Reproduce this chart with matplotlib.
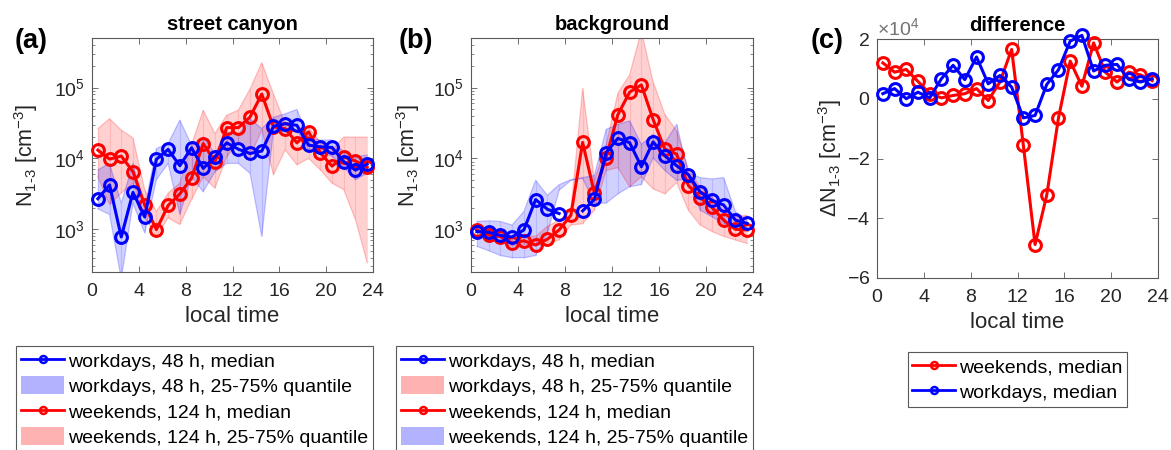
import matplotlib
matplotlib.use('Agg')
import matplotlib.pyplot as plt
import numpy as np
from matplotlib.lines import Line2D
from matplotlib.patches import Patch
from matplotlib.ticker import ScalarFormatter, LogLocator, NullFormatter

plt.rcParams['font.family'] = ['Liberation Sans', 'DejaVu Sans']
plt.rcParams['mathtext.fontset'] = 'custom'
plt.rcParams['mathtext.rm'] = 'Liberation Sans'
plt.rcParams['mathtext.it'] = 'Liberation Sans:italic'
plt.rcParams['mathtext.bf'] = 'Liberation Sans:bold'

# ---------------- data ----------------
hours = [0.5, 1.5, 2.5, 3.5, 4.5, 5.5, 6.5, 7.5, 8.5, 9.5, 10.5, 11.5,
         12.5, 13.5, 14.5, 15.5, 16.5, 17.5, 18.5, 19.5, 20.5, 21.5, 22.5, 23.5]

# (a) street canyon
sc_work_med = [2700, 4230, 780, 3330, 1490, 9700, 13400, 7900, 14100, 7240, 10500, 16600,
               13500, 11750, 12700, 28400, 31000, 29300, 15400, 14600, 14300, 9000, 6850, 8300]
sc_work_q25 = [1950, 1620, 200, 2340, 890, 5010, 8510, 1620, 5500, 3390, 6460, 8510,
               8510, 6170, 794, 25100, 23400, 25100, 13200, 12300, 10700, 7590, 5010, 6170]
sc_work_q75 = [6900, 8500, 2340, 8500, 2000, 13800, 16200, 34700, 15500, 20000, 11700, 23400,
               21400, 36300, 26300, 38000, 42700, 49000, 20000, 18200, 18200, 12300, 10500, 11200]
sc_week_med = [13100, 9800, 10800, 6500, 2220, 990, 2170, 3160, 5250, 16200, 9000, 27200,
               27200, 38400, 81000, 27800, 26300, 16600, 23700, 12000, 7800, 10500, 9200, 7500]
sc_week_q25 = [5500, 2240, 3240, 4470, 1510, 794, 1450, 1170, 2630, 5500, 3800, 10500,
               17000, 10500, 25100, 5890, 13200, 8130, 10000, 6900, 4470, 3630, 1380, 340]
sc_week_q75 = [26300, 36300, 25100, 19500, 3630, 1780, 3240, 4470, 15500, 47900, 22400, 40700,
               47900, 95500, 224000, 81300, 30900, 25100, 27500, 17000, 13200, 20000, 20000, 20000]

# (b) background
bg_work_med = [930, 910, 820, 780, 980, 2630, 1920, 1670, np.nan, 1820, 2640, 12100,
               19200, 16700, 7650, 17100, 10900, 7900, 5900, 3360, 2570, 2200, 1350, 1210]
bg_work_q25 = [575, 500, 427, 398, 398, 427, 870, 3550, 4900, 5250, 2340, 2340,
               3160, 3980, 4270, 10200, 6760, 4900, 5130, 1860, 1510, 1200, 1100, 1050]
bg_work_q75 = [1290, 1320, 1290, 1150, 1780, 4900, 3020, 4270, 5010, 5370, 5750, 25700,
               30200, 33900, 15800, 21900, 16600, 30200, 6310, 5370, 5130, 5370, 1780, 1350]
bg_week_med = [980, 830, 790, 640, 690, 600, 725, 980, 1580, 16800, 3250, 10300,
               41500, 86000, 109000, 35400, 13500, 11500, 4150, 2800, 2040, 1350, 1000, 980]
bg_week_q25 = [832, 724, 646, 575, 617, 589, 646, 708, 1150, 1200, 1860, 6760,
               7410, 3980, 5500, 3720, 3160, 4570, 1860, 1150, 933, 794, 708, 631]
bg_week_q75 = [1100, 1000, 891, 741, 832, 794, 1100, 1350, 1860, 97700, 4900, 15800,
               83200, 151000, 631000, 120000, 41700, 24500, 7080, 3980, 2880, 1860, 1510, 1580]

# (c) difference
diff_week = [12000, 8900, 9800, 5800, 1700, 300, 1100, 1700, 3400, -600, 5600, 16500,
             -15600, -48800, -32200, -6400, 12600, 4200, 18700, 8900, 5600, 8900, 8000, 6100]
diff_work = [1700, 3400, 0, 2200, 300, 6700, 11200, 6400, 14000, 5000, 7800, 3900,
             -6400, -5600, 4800, 9700, 19300, 21200, 9300, 11200, 11500, 6500, 5600, 6700]

titles = ['street canyon', 'background', 'difference']
panel_labels = ['(a)', '(b)', '(c)']
xticks = [0, 4, 8, 12, 16, 20, 24]

RED = (1, 0, 0)
BLUE = (0, 0, 1)
AXC = '0.15'
SPC = '0.35'

W, H = 1171, 450
fig = plt.figure(figsize=(W / 100, H / 100), dpi=100)


def px_axes(l, r, t, b):
    return fig.add_axes([l / W, 1 - b / H, (r - l) / W, (b - t) / H])


def style(ax):
    ax.set_xlim(0, 24)
    ax.set_xticks(xticks)
    for s in ax.spines.values():
        s.set_color(SPC)
        s.set_linewidth(0.8)
    ax.tick_params(which='major', direction='in', top=True, right=True, length=4,
                   width=0.6, color=SPC, labelsize=14, labelcolor=AXC, pad=5)
    ax.tick_params(axis='x', which='major', pad=8)
    ax.tick_params(which='minor', direction='in', top=False, right=True, length=2,
                   width=0.5, color=SPC)
    ax.tick_params(axis='x', which='minor', bottom=False, top=False)
    ax.set_xlabel('local time', fontsize=16, color=AXC, labelpad=4)


def band(ax, x, lo, hi, color):
    ax.fill_between(x, lo, hi, facecolor=color, alpha=0.18, edgecolor='none', lw=0)
    ax.plot(x, lo, color=color, alpha=0.22, lw=0.9)
    ax.plot(x, hi, color=color, alpha=0.22, lw=0.9)
    ax.vlines(x, lo, hi, color=color, alpha=0.12, lw=0.8)


def med(ax, x, y, color):
    ax.plot(x, y, color=color, lw=2.2, marker='o', ms=8.5, mew=2.2, mfc='none',
            clip_on=False, zorder=5)


axes = [px_axes(92, 373, 38, 272), px_axes(471, 753, 38, 272), px_axes(877, 1158, 39, 278)]

# (a)
ax = axes[0]
band(ax, hours, sc_week_q25, sc_week_q75, RED)
band(ax, hours, sc_work_q25, sc_work_q75, BLUE)
med(ax, hours, sc_week_med, RED)
med(ax, hours, sc_work_med, BLUE)

# (b)
ax = axes[1]
band(ax, hours, bg_week_q25, bg_week_q75, RED)
band(ax, hours, bg_work_q25, bg_work_q75, BLUE)
med(ax, hours, bg_week_med, RED)
med(ax, hours, bg_work_med, BLUE)

for ax, lp in zip(axes[:2], [10, 8]):
    ax.set_yscale('log')
    ax.set_ylim(250, 5e5)
    ax.yaxis.set_major_locator(LogLocator(base=10, numticks=10))
    ax.yaxis.set_minor_locator(LogLocator(base=10, subs=np.arange(2, 10), numticks=10))
    ax.yaxis.set_minor_formatter(NullFormatter())
    style(ax)
    ax.set_ylabel('N$_{1\u20103}$ [cm$^{-3}$]', fontsize=15.5, color=AXC, labelpad=lp)

# (c)
ax = axes[2]
med(ax, hours, diff_week, RED)
med(ax, hours, diff_work, BLUE)
ax.set_ylim(-60000, 20000)
ax.set_yticks([-60000, -40000, -20000, 0, 20000])
fmt = ScalarFormatter(useMathText=True)
fmt.set_powerlimits((-3, 3))
ax.yaxis.set_major_formatter(fmt)
style(ax)
ax.yaxis.get_offset_text().set_fontsize(14)
ax.yaxis.get_offset_text().set_color('0.45')
ax.set_ylabel('\u0394N$_{1\u20103}$ [cm$^{-3}$]', fontsize=15.5, color=AXC, labelpad=2)

for ax, t in zip(axes, titles):
    ax.set_title(t, fontsize=14.5, fontweight='bold', pad=6)

for lab, xp in zip(panel_labels, [31, 416, 827]):
    fig.text(xp / W, 1 - 41 / H, lab, fontsize=19.5, fontweight='bold', ha='center', va='center')

# legends
def mh(color):
    return Line2D([], [], color=color, lw=2, marker='o', ms=5, mew=1.8, mfc='none')


def ph(color):
    return Patch(facecolor=color, alpha=0.3, edgecolor='none')


leg_kw = dict(fontsize=14, frameon=True, fancybox=False, edgecolor=SPC, framealpha=1,
              borderaxespad=0, handlelength=2.2, handleheight=1.05, handletextpad=0.2,
              labelspacing=0.3, borderpad=0.25)

la = fig.legend(handles=[mh(BLUE), ph(BLUE), mh(RED), ph(RED)],
                labels=['workdays, 48 h, median', 'workdays, 48 h, 25-75% quantile',
                        'weekends, 124 h, median', 'weekends, 124 h, 25-75% quantile'],
                loc='upper right', bbox_to_anchor=(373 / W, 1 - 346 / H), **leg_kw)
lb = fig.legend(handles=[mh(BLUE), ph(RED), mh(RED), ph(BLUE)],
                labels=['workdays, 48 h, median', 'workdays, 48 h, 25-75% quantile',
                        'weekends, 124 h, median', 'weekends, 124 h, 25-75% quantile'],
                loc='upper right', bbox_to_anchor=(753 / W, 1 - 346 / H), **leg_kw)
lc = fig.legend(handles=[mh(RED), mh(BLUE)],
                labels=['weekends, median', 'workdays, median'],
                loc='upper center', bbox_to_anchor=(1017.5 / W, 1 - 352 / H), **leg_kw)
for lg in (la, lb, lc):
    lg.get_frame().set_linewidth(0.8)

fig.savefig('out.png', dpi=100)
